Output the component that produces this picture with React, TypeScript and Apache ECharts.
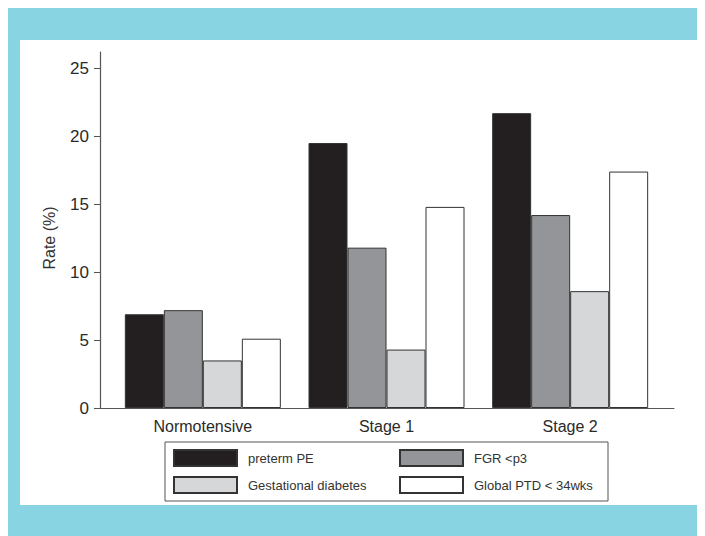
import React, { useEffect, useRef } from "react";
import * as echarts from "echarts";

const categories = ["Normotensive", "Stage 1", "Stage 2"];
const pretermPE = [6.9, 19.5, 21.7];
const fgrP3 = [7.2, 11.8, 14.2];
const gestationalDiabetes = [3.5, 4.3, 8.6];
const globalPTD = [5.1, 14.8, 17.4];
const yTicks = [0, 5, 10, 15, 20, 25];

const seriesNames = ["preterm PE", "FGR <p3", "Gestational diabetes", "Global PTD < 34wks"];
const seriesColors = ["#231f20", "#939598", "#d6d7d9", "#ffffff"];
const seriesData = [pretermPE, fgrP3, gestationalDiabetes, globalPTD];
const legendTextWidths = [142, 125, 142, 125];

const FONT = "'Liberation Sans', Arial, Helvetica, sans-serif";

export default function App() {
  const ref = useRef<HTMLDivElement>(null);
  useEffect(() => {
    if (!ref.current) return;
    const chart = echarts.init(ref.current, undefined, { renderer: "svg" });
    chart.setOption({
      animation: false,
      backgroundColor: "#89d4e2",
      textStyle: { fontFamily: FONT },
      graphic: [
        {
          type: "rect",
          z: -10,
          silent: true,
          shape: { x: 12, y: 32, width: 679, height: 465 },
          style: { fill: "#ffffff" },
        },
        {
          type: "text",
          x: 41,
          y: 230,
          rotation: Math.PI / 2,
          style: {
            text: "Rate (%)",
            align: "center",
            verticalAlign: "middle",
            fontSize: 16,
            fill: "#333333",
            fontFamily: FONT,
          },
        },
      ],
      grid: [
        { left: 103, top: 44, width: 551, height: 356 },
        { left: 92, top: 44, width: 574, height: 356 },
      ],
      xAxis: [
        {
          type: "category",
          gridIndex: 0,
          data: categories,
          axisLine: { show: false },
          axisTick: { show: false },
          axisLabel: { color: "#2a2a2a", fontSize: 16, margin: 10, fontFamily: FONT },
        },
        {
          type: "value",
          gridIndex: 1,
          min: 0,
          max: 1,
          axisLine: { show: true, onZero: false, lineStyle: { color: "#555555", width: 1.2 } },
          axisTick: { show: false },
          axisLabel: { show: false },
          splitLine: { show: false },
        },
      ],
      yAxis: [
        {
          type: "value",
          gridIndex: 0,
          min: 0,
          max: 26.2,
          interval: 5,
          offset: 11,
          axisLine: { show: true, lineStyle: { color: "#555555", width: 1.2 } },
          axisTick: { show: true, length: 6, customValues: yTicks, lineStyle: { color: "#555555" } },
          axisLabel: { customValues: yTicks, color: "#2a2a2a", fontSize: 17, margin: 11, fontFamily: FONT },
          splitLine: { show: false },
        },
        {
          type: "value",
          gridIndex: 1,
          min: 0,
          max: 1,
          show: false,
        },
      ],
      legend: {
        left: 157,
        top: 434,
        width: 430,
        padding: [7, 9, 7, 8],
        borderColor: "#555555",
        borderWidth: 1,
        itemWidth: 63,
        itemHeight: 16,
        itemGap: 9,
        icon: "rect",
        textStyle: { fontSize: 13, color: "#333333", lineHeight: 16, padding: [0, 0, 0, 6], fontFamily: FONT },
        data: seriesNames.map((n, i) => ({
          name: n,
          textStyle: { width: legendTextWidths[i] },
        })),
      },
      series: seriesNames.map((name, i) => ({
        name,
        type: "bar",
        xAxisIndex: 0,
        yAxisIndex: 0,
        data: seriesData[i],
        barWidth: 39,
        barGap: "0%",
        itemStyle: { color: seriesColors[i], borderColor: "#333333", borderWidth: 1 },
      })),
    });
    return () => chart.dispose();
  }, []);
  return <div ref={ref} style={{ width: 697, height: 528 }} />;
}
